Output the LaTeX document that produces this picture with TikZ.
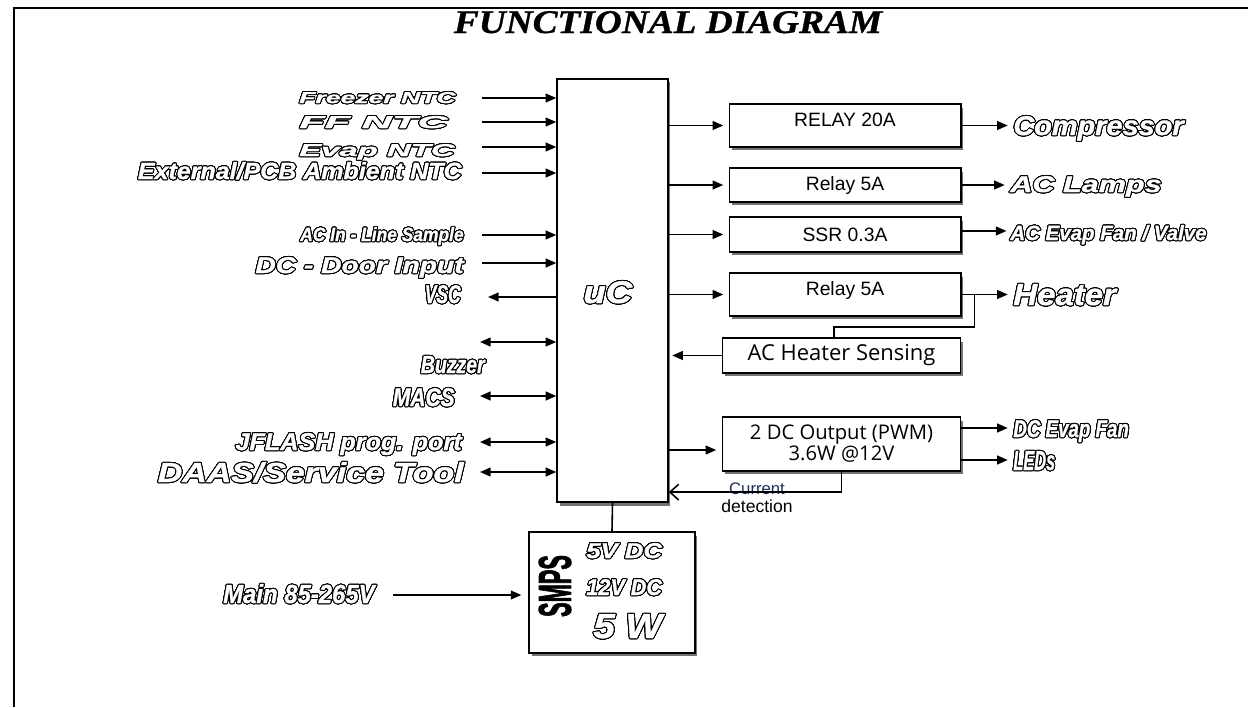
\documentclass[tikz,border=0pt]{standalone}
\usepackage{fontspec}
\setmainfont{Liberation Sans}
\newfontfamily\lblfont[BoldItalicFeatures={FakeBold=1.2}]{Liberation Sans}
\newfontfamily\heavyfont[BoldFeatures={FakeBold=2.5}]{Liberation Sans}
\newfontfamily\ttlfont[BoldItalicFeatures={FakeBold=0.8}]{Liberation Serif}
\newfontfamily\sensfont{Open Sans}
\usepackage{graphicx}
\usepackage[copies]{contour}
\contourlength{0.55pt}
\contournumber{32}
\usepackage{tikz}
\usetikzlibrary{arrows.meta, calc, shadows}
\definecolor{mynavy}{RGB}{31,45,90}
\newlength{\pxu}\setlength{\pxu}{0.5669pt}
% outlined label: width, cap height (px), text
\newcommand{\olab}[3]{{\color{white}\contour{black}{\resizebox{#1\pxu}{#2\pxu}{\lblfont\bfseries\itshape #3}}}}
\tikzset{
  mcu/.style={rectangle, draw, fill=white, line width=1.1pt,
    drop shadow={shadow xshift=1.5pt, shadow yshift=-2pt, opacity=0.55, fill=black}},
  relay/.style={mcu, font=\fontsize{11}{13}\selectfont},
  sense/.style={mcu, font=\sensfont\fontsize{12.5}{14}\selectfont},
  lbl/.style={inner sep=0pt, anchor=base east},
  rlbl/.style={inner sep=0pt, anchor=base west},
  sig/.style={-{Triangle[length=6pt, width=5pt]}, line width=0.9pt},
  bidir/.style={{Triangle[length=6pt, width=5pt]}-{Triangle[length=6pt, width=5pt]}, line width=0.9pt},
  wire/.style={line width=0.9pt}
}

\begin{document}
\begin{tikzpicture}[x=0.02cm, y=-0.02cm]
  \useasboundingbox (0,0) rectangle (1248,707);

  % Frame and title
  \draw[line width=1.2pt] (14,707) -- (14,8) -- (1248,8);
  \node[inner sep=0pt, anchor=base] (title) at (668,33) {\resizebox{430\pxu}{22\pxu}{\ttlfont\bfseries\itshape FUNCTIONAL DIAGRAM}};

  % Microcontroller
  \node[mcu, minimum width=111\pxu, minimum height=425\pxu] (uc) at (612.5,290.5) {};
  \node[rlbl] (uclbl) at (583,303) {\olab{49}{22}{uC}};

  % Inputs and ports on the left
  \node[lbl] (fz) at (456,103) {\olab{157}{11}{Freezer NTC}};
  \node[lbl] (ff) at (448,128) {\olab{149}{12}{FF NTC}};
  \node[lbl] (ev) at (455,156) {\olab{156}{12}{Evap NTC}};
  \node[lbl] (amb) at (462,179) {\olab{325}{17}{External/PCB Ambient NTC}};
  \node[lbl] (acin) at (464,241) {\olab{164}{14}{AC In - Line Sample}};
  \node[lbl] (door) at (464,273) {\olab{209}{16}{DC - Door Input}};
  \node[lbl] (vsc) at (461,303) {\olab{36}{18}{VSC}};
  \node[lbl] (buz) at (485,373) {\olab{64}{17}{Buzzer}};
  \node[lbl] (macs) at (455,406) {\olab{62}{18}{MACS}};
  \node[lbl] (jfl) at (462,450) {\olab{227}{17}{JFLASH prog. port}};
  \node[lbl] (daas) at (464,482) {\olab{307}{20}{DAAS/Service Tool}};

  \coordinate (fzin) at (482,98);
  \coordinate (ffin) at (482,122);
  \coordinate (evin) at (482,147);
  \coordinate (ambin) at (482,173);
  \coordinate (acinin) at (482,235);
  \coordinate (doorin) at (482,263);
  \coordinate (vscout) at (488,297);
  \coordinate (buzio) at (480,342);
  \coordinate (macsio) at (480,396);
  \coordinate (jflio) at (480,442);
  \coordinate (daasio) at (480,472);

  \draw[sig] (fzin) -- (fzin -| uc.west);
  \draw[sig] (ffin) -- (ffin -| uc.west);
  \draw[sig] (evin) -- (evin -| uc.west);
  \draw[sig] (ambin) -- (ambin -| uc.west);
  \draw[sig] (acinin) -- (acinin -| uc.west);
  \draw[sig] (doorin) -- (doorin -| uc.west);
  \draw[sig] (vscout -| uc.west) -- (vscout);
  \draw[bidir] (buzio) -- (buzio -| uc.west);
  \draw[bidir] (macsio) -- (macsio -| uc.west);
  \draw[bidir] (jflio) -- (jflio -| uc.west);
  \draw[bidir] (daasio) -- (daasio -| uc.west);

  % Output stages
  \node[relay, minimum width=232\pxu, minimum height=43\pxu, text depth=6pt] (r20) at (845,125.5) {RELAY 20A};
  \node[relay, minimum width=232\pxu, minimum height=34\pxu] (r5a) at (845,185) {Relay 5A};
  \node[relay, minimum width=232\pxu, minimum height=35\pxu] (ssr) at (845,234.5) {SSR 0.3A};
  \node[relay, minimum width=232\pxu, minimum height=43\pxu, text depth=7pt] (rht) at (845,294.5) {Relay 5A};
  \node[sense, minimum width=239\pxu, minimum height=35\pxu] (ahs) at (841.5,355.5) {AC Heater Sensing};
  \node[sense, minimum width=239\pxu, minimum height=54\pxu, align=center,
    font=\sensfont\fontsize{11.5}{12}\selectfont] (dco) at (841.5,444) {2 DC Output (PWM)\\3.6W @12V};

  \node[rlbl] (cmp) at (1013,135) {\olab{171}{19}{Compressor}};
  \node[rlbl] (lmp) at (1010,192) {\olab{152}{16}{AC Lamps}};
  \node[rlbl] (evf) at (1010,240) {\olab{197}{15}{AC Evap Fan / Valve}};
  \node[rlbl] (htr) at (1013,305) {\olab{103}{21}{Heater}};
  \node[rlbl] (dcf) at (1013,437) {\olab{116}{17}{DC Evap Fan}};
  \node[rlbl] (led) at (1013,470) {\olab{42}{19}{LEDs}};

  \draw[sig, shorten >=3pt] (r20.west -| uc.east) -- (r20.west);
  \draw[sig, shorten >=3pt] (r5a.west -| uc.east) -- (r5a.west);
  \draw[sig, shorten >=3pt] (ssr.west -| uc.east) -- (ssr.west);
  \draw[sig, shorten >=3pt] (rht.west -| uc.east) -- (rht.west);
  \draw[sig, shorten >=2pt] (ahs.west) -- (ahs.west -| uc.east);
  \coordinate (dcin) at ($(dco.west)+(0,6)$);
  \draw[sig, shorten >=3pt] (dcin -| uc.east) -- (dcin);

  \draw[sig, shorten >=3pt] (r20.east) -- (r20.east -| cmp.west);
  \draw[sig, shorten >=3pt] (r5a.east) -- (r5a.east -| lmp.west);
  \draw[sig, shorten >=2pt] ([yshift=2pt]ssr.east) -- ([yshift=2pt]ssr.east -| evf.west);
  \draw[sig, shorten >=3pt] (rht.east) -- (rht.east -| htr.west);
  \draw[wire] ($(rht.east)+(13,0)$) -- ++(0,32.5) -| ($(ahs.north)+(-7.5,0)$);

  \coordinate (fanout) at ($(dco.east)+(0,-16)$);
  \coordinate (ledout) at ($(dco.east)+(0,16)$);
  \draw[sig, shorten >=3pt] (fanout) -- (fanout -| dcf.west);
  \draw[sig, shorten >=3pt] (ledout) -- (ledout -| led.west);

  % Current feedback
  \node[font=\fontsize{9.5}{11}\selectfont, text=mynavy, inner sep=0pt] (curr) at (757,489) {Current};
  \node[font=\fontsize{10}{11}\selectfont, inner sep=0pt] (det) at (757,506) {detection};
  \draw[wire, -{Straight Barb[length=5pt, width=9pt]}] (dco.south) |- ($(uc.south east)+(0,-11)$);

  % Power supply
  \node[mcu, minimum width=166\pxu, minimum height=121\pxu] (smps) at (612,592.5) {};
  \draw[wire] (uc.south) -- (smps.north);
  \node[inner sep=0pt, rotate=90] (smpslbl) at (555,586) {\resizebox{62\pxu}{32\pxu}{\heavyfont\bfseries SMPS}};
  \node[rlbl] (v5) at (586,558) {\olab{76}{15}{5V DC}};
  \node[rlbl] (v12) at (586,595) {\olab{76}{16}{12V DC}};
  \node[rlbl] (w5) at (593,638) {\olab{69}{24}{5 W}};
  \node[lbl] (mains) at (375,603) {\olab{152}{19}{Main 85-265V}};
  \coordinate (mainin) at (393,595);
  \draw[sig, shorten >=4pt] (mainin) -- (mainin -| smps.west);
\end{tikzpicture}
\end{document}
